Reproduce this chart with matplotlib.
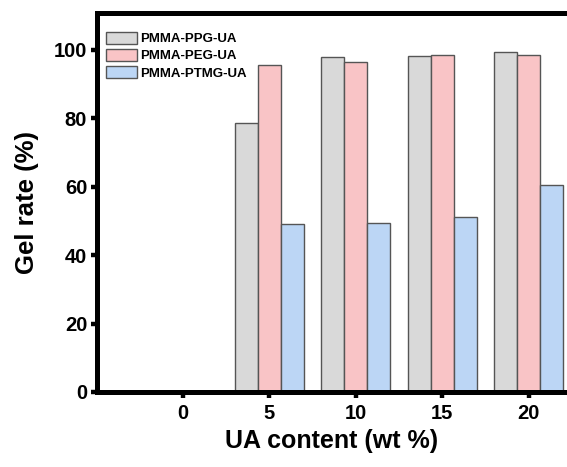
import matplotlib
matplotlib.use('Agg')
import matplotlib.pyplot as plt
import numpy as np

plt.rcParams['font.family'] = ['Liberation Sans', 'DejaVu Sans']
plt.rcParams['font.weight'] = 'bold'

labels = ['0', '5', '10', '15', '20']
ppg = [0, 78.7, 97.9, 98.2, 99.5]
peg = [0, 95.6, 96.6, 98.5, 98.5]
ptmg = [0, 49.1, 49.3, 51.1, 60.5]
series_names = ['PMMA-PPG-UA', 'PMMA-PEG-UA', 'PMMA-PTMG-UA']
colors = ['#d9d9d9', '#f9c4c6', '#bcd6f5']

x = np.arange(len(labels))  # category positions
width = 0.266

fig = plt.figure(figsize=(5.67, 4.67), dpi=100)
ax = fig.add_axes([0.171, 0.1606, 0.827, 0.8116])

for i, (vals, name, c) in enumerate(zip([ppg, peg, ptmg], series_names, colors)):
    ax.bar(x + (i - 1) * width, vals, width, label=name, color=c,
           edgecolor='#555555', linewidth=1.0)

ax.set_xlim(-0.995, 4.43)
ax.set_ylim(0, 110.8)
ax.set_xticks(x)
ax.set_xticklabels(labels)
ax.set_yticks([0, 20, 40, 60, 80, 100])

for side in ['left', 'bottom', 'top']:
    ax.spines[side].set_linewidth(3.6)
ax.spines['right'].set_visible(False)

ax.tick_params(axis='both', direction='out', length=4, width=3.2,
               labelsize=14.5, pad=3)
ax.tick_params(axis='x', pad=5)
for lab in ax.get_xticklabels() + ax.get_yticklabels():
    lab.set_fontweight('bold')

ax.set_xlabel('UA content (wt %)', fontsize=18, fontweight='bold', labelpad=4)
ax.set_ylabel('Gel rate (%)', fontsize=18.5, fontweight='bold', labelpad=11)

ax.legend(loc='upper left', frameon=False,
          prop={'weight': 'bold', 'size': 9.5},
          handlelength=2.3, handleheight=1.0, labelspacing=0.3,
          handletextpad=0.3, borderaxespad=0.3, bbox_to_anchor=(0.0, 0.975))

fig.savefig('out.png', dpi=100)
